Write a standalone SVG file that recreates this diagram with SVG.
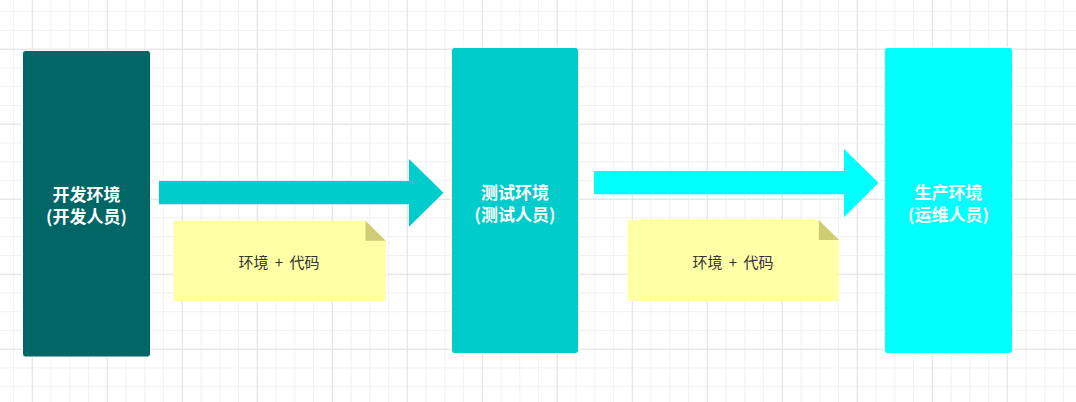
<svg xmlns="http://www.w3.org/2000/svg" width="1076" height="402" viewBox="0 0 1076 402">
  <style>
    .node-label { font-family: "Noto Sans CJK SC", "Noto Sans", sans-serif; font-size: 17px; font-weight: bold; fill: #ffffff; text-anchor: middle; }
    .note-label { font-family: "Noto Sans CJK SC", "Noto Sans", sans-serif; font-size: 15px; fill: #333333; text-anchor: middle; word-spacing: 3px; }
    .box { stroke: #ffffff; stroke-width: 1; }
    .note { fill: #ffffa6; }
    .fold { fill: #cdcd73; }
  </style>
  <defs>
    <pattern id="gridMinor" patternUnits="userSpaceOnUse" x="13.05" y="11.2" width="18.75" height="18.75">
      <rect x="0" y="0" width="1" height="18.75" fill="#f1f1f1"/>
      <rect x="0" y="0" width="18.75" height="1" fill="#f1f1f1"/>
    </pattern>
    <pattern id="gridMajor" patternUnits="userSpaceOnUse" x="31.8" y="48.8" width="75" height="75">
      <rect x="0" y="0" width="1" height="75" fill="#e4e4e4"/>
      <rect x="0" y="0" width="75" height="1" fill="#e4e4e4"/>
    </pattern>
  </defs>

  <!-- background grid -->
  <rect width="1076" height="402" fill="#ffffff"/>
  <rect width="1076" height="402" fill="url(#gridMinor)"/>
  <rect width="1076" height="402" fill="url(#gridMajor)"/>

  <!-- connectors: block arrows between environments -->
  <g id="connectors">
    <polygon id="arrow-dev-test" fill="#00cccc" points="159,181 409,181 409,159 443.5,192.7 409,226.7 409,204.3 159,204.3"/>
    <polygon id="arrow-test-prod" fill="#00ffff" points="594,171 844,171 844,149 878.5,182.7 844,217.3 844,194.3 594,194.3"/>
  </g>

  <!-- development environment -->
  <g id="node-dev">
    <rect class="box" x="22.5" y="50.5" width="128" height="306.5" rx="3" fill="#006666"/>
    <text class="node-label" x="86.5" y="201">开发环境</text>
    <text class="node-label" x="86.5" y="223">(开发人员)</text>
  </g>

  <!-- test environment -->
  <g id="node-test">
    <rect class="box" x="451.5" y="47.5" width="127" height="306" rx="3" fill="#00cccc"/>
    <text class="node-label" x="515" y="199">测试环境</text>
    <text class="node-label" x="515" y="221">(测试人员)</text>
  </g>

  <!-- production environment -->
  <g id="node-prod">
    <rect class="box" x="884.5" y="47.5" width="128" height="306" rx="3" fill="#00ffff"/>
    <text class="node-label" x="948.5" y="199">生产环境</text>
    <text class="node-label" x="948.5" y="221">(运维人员)</text>
  </g>

  <!-- note under first arrow -->
  <g id="note-1">
    <polygon class="note" points="173.5,220.7 365.5,220.7 385.7,240.7 385.7,301 173.5,301"/>
    <polygon class="fold" points="365.5,220.7 385.7,240.7 365.5,240.7"/>
    <text class="note-label" x="279" y="267.5">环境 + 代码</text>
  </g>

  <!-- note under second arrow -->
  <g id="note-2">
    <polygon class="note" points="627.7,220 818.8,220 839,240 839,301 627.7,301"/>
    <polygon class="fold" points="818.8,220 839,240 818.8,240"/>
    <text class="note-label" x="733" y="267.5">环境 + 代码</text>
  </g>
</svg>
